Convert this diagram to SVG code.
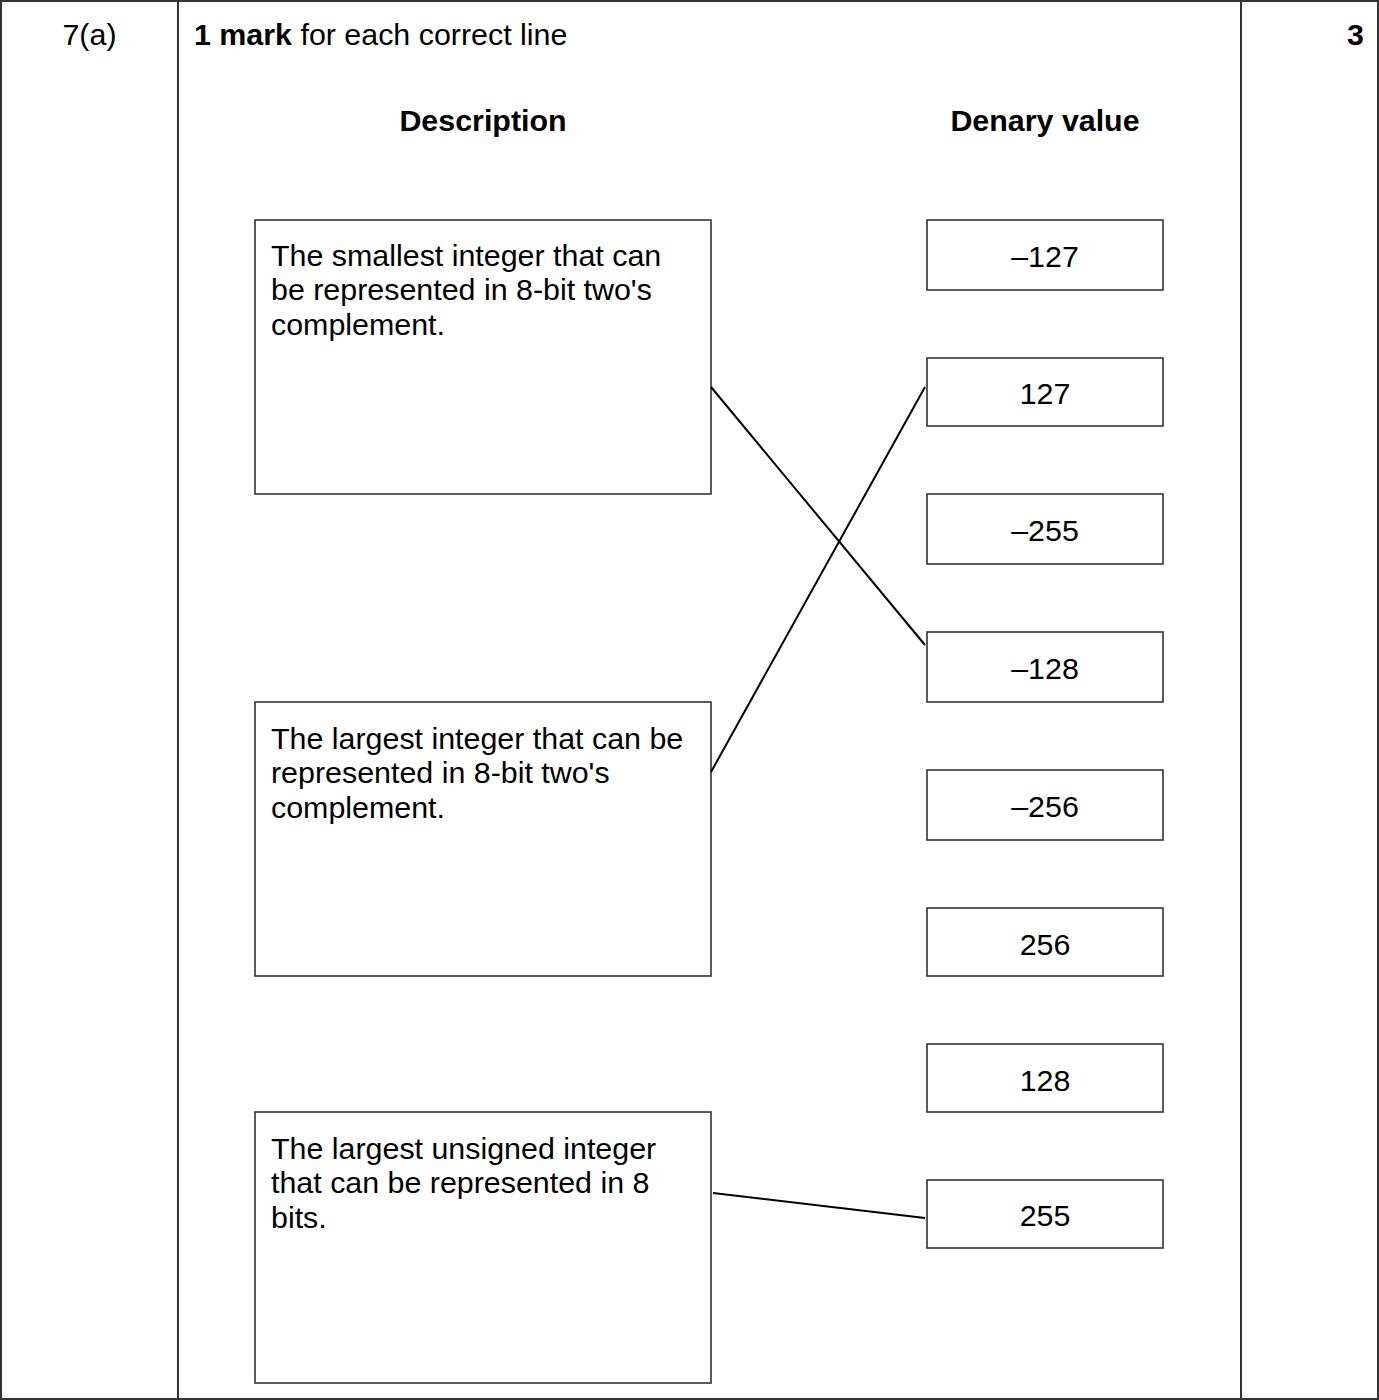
<svg xmlns="http://www.w3.org/2000/svg" width="1379" height="1400" viewBox="0 0 1379 1400">
<style>
text{font-family:"Liberation Sans",Arial,sans-serif;font-size:30.4px;fill:#000}
.b{font-weight:bold}
.c{text-anchor:middle}
.frame{fill:none;stroke:#333;stroke-width:2}
.box{fill:#fff;stroke:#333;stroke-width:1.6}
.conn{stroke:#000;stroke-width:2;fill:none}
</style>
<rect width="1379" height="1400" fill="#fff"/>
<g id="table">
<rect class="frame" x="1" y="1" width="1377" height="1398"/>
<line class="frame" x1="178" y1="0" x2="178" y2="1400"/>
<line class="frame" x1="1241" y1="0" x2="1241" y2="1400"/>
<text x="89.5" y="45" class="c">7(a)</text>
<text x="194" y="45"><tspan class="b">1 mark</tspan> for each correct line</text>
<text x="1364" y="45" class="b" text-anchor="end">3</text>
<text x="483" y="131" class="b c">Description</text>
<text x="1045" y="131" class="b c">Denary value</text>
</g>
<g id="desc1">
<rect class="box" x="255" y="220" width="456" height="274"/>
<text x="271" y="265.5">The smallest integer that can</text>
<text x="271" y="300">be represented in 8-bit two's</text>
<text x="271" y="334.5">complement.</text>
</g>
<g id="desc2">
<rect class="box" x="255" y="702" width="456" height="274"/>
<text x="271" y="748.5">The largest integer that can be</text>
<text x="271" y="783">represented in 8-bit two's</text>
<text x="271" y="817.5">complement.</text>
</g>
<g id="desc3">
<rect class="box" x="255" y="1112" width="456" height="271"/>
<text x="271" y="1158.5">The largest unsigned integer</text>
<text x="271" y="1193">that can be represented in 8</text>
<text x="271" y="1227.5">bits.</text>
</g>
<g id="v1"><rect class="box" x="927" y="220" width="236" height="70"/><text x="1045" y="266.5" class="c">–127</text></g>
<g id="v2"><rect class="box" x="927" y="358" width="236" height="68"/><text x="1045" y="403.5" class="c">127</text></g>
<g id="v3"><rect class="box" x="927" y="494" width="236" height="70"/><text x="1045" y="540.5" class="c">–255</text></g>
<g id="v4"><rect class="box" x="927" y="632" width="236" height="70"/><text x="1045" y="678.5" class="c">–128</text></g>
<g id="v5"><rect class="box" x="927" y="770" width="236" height="70"/><text x="1045" y="816.5" class="c">–256</text></g>
<g id="v6"><rect class="box" x="927" y="908" width="236" height="68"/><text x="1045" y="954.5" class="c">256</text></g>
<g id="v7"><rect class="box" x="927" y="1044" width="236" height="68"/><text x="1045" y="1090.5" class="c">128</text></g>
<g id="v8"><rect class="box" x="927" y="1180" width="236" height="68"/><text x="1045" y="1225.5" class="c">255</text></g>
<g id="connectors">
<line class="conn" x1="711" y1="387" x2="925" y2="645"/>
<line class="conn" x1="711" y1="772" x2="925" y2="387"/>
<line class="conn" x1="713" y1="1193" x2="925" y2="1218"/>
</g>
</svg>
